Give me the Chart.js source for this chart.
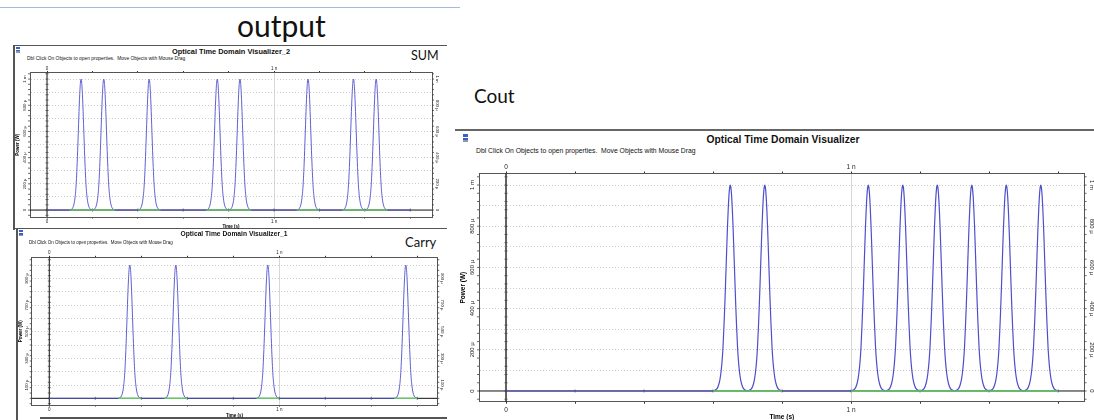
<!DOCTYPE html>
<html>
<head>
<meta charset="utf-8">
<title>Optical Time Domain Visualizer outputs</title>
<script src="https://cdn.jsdelivr.net/npm/chart.js@4.4.1/dist/chart.umd.min.js"></script>
<style>
  html, body { margin: 0; padding: 0; background: #fff; }
  #page { position: relative; width: 1094px; height: 420px; overflow: hidden; font-family: "Liberation Sans", Arial, sans-serif; }
  .box { position: absolute; }
  .rule { position: absolute; background: #555; }
  .txt { position: absolute; white-space: pre; line-height: 1; transform-origin: 0 0; color: #111; font-family: "Liberation Sans", Arial, sans-serif; }
  .big { position: absolute; font-family: Lato, "Open Sans", sans-serif; white-space: nowrap; line-height: 1; color: #111; }
  .icon { position: absolute; background: linear-gradient(#3b5fc4 0 35%, #fff 35% 50%, #3b5fc4 50% 75%, #8a9ab0 75%); }
</style>
</head>
<body>
<div id="page">
  <div class="rule" style="left:0;top:7px;width:460px;height:1px;background:#9dbbe3"></div>
  <div class="big" style="left:237px;top:10px;font-size:30px">output</div>
  <div class="big" style="left:411px;top:50px;font-size:12.5px">SUM</div>
  <div class="big" style="left:405px;top:236px;font-size:13px">Carry</div>
  <div class="big" style="left:474px;top:85.5px;font-size:19px">Cout</div>

  <div class="rule" style="left:13px;top:44.5px;width:434px;height:1.5px"></div>
  <div class="rule" style="left:13px;top:45px;width:1.5px;height:185px"></div>
  <div class="rule" style="left:14px;top:227.8px;width:433px;height:1.5px"></div>
  <div class="rule" style="left:16px;top:228px;width:1.5px;height:192px"></div>
  <div class="rule" style="left:40px;top:417.3px;width:407px;height:1.5px"></div>
  <div class="rule" style="left:455px;top:129.3px;width:639px;height:1.5px;background:#666"></div>

  <div class="icon" style="left:16px;top:47px;width:4px;height:6px"></div>
  <div class="icon" style="left:19px;top:230px;width:4px;height:6px"></div>
  <div class="icon" style="left:463px;top:134px;width:5px;height:8px"></div>

  <div class="box" style="left:10px;top:62px;width:434px;height:169px"><canvas id="sumChart"></canvas></div>
  <div class="box" style="left:12px;top:247px;width:437px;height:173px"><canvas id="carryChart"></canvas></div>
  <div class="box" style="left:457px;top:160px;width:643px;height:260px"><canvas id="coutChart"></canvas></div>
</div>
<script>
// time axis (ns)
const timeTicks = [0, 0.2, 0.4, 0.6, 0.8, 1, 1.2, 1.4, 1.6];
const timeTickLabels = ['0', '', '', '', '', '1 n', '', '', ''];

// power grid levels (µW)
const gridLevels = [0, 100, 200, 300, 400, 500, 600, 700, 800, 900, 1000];
const sumYLabels = [0, 200, 400, 600, 800, 1000];
const carryYLabels = [100, 300, 500, 700, 900];
const coutYLabels = [0, 200, 400, 600, 800, 1000];

// one pulse: offset from centre (ns) -> power (µW)
const pulseOffsets = [-0.050, -0.045, -0.039, -0.034, -0.030, -0.027, -0.024, -0.021, -0.018, -0.016, -0.014, -0.012,
                      -0.010, -0.008, -0.006, -0.004, -0.002, 0,
                      0.002, 0.004, 0.006, 0.008, 0.010, 0.012, 0.014, 0.016, 0.018, 0.021, 0.024, 0.027,
                      0.030, 0.034, 0.039, 0.045, 0.050];
const pulseLevels = [0, 3, 10, 28, 55, 90, 140, 215, 325, 410, 505, 604,
                     705, 800, 880, 945, 985, 1000,
                     985, 945, 880, 800, 705, 604, 505, 410, 325, 215, 140, 90,
                     55, 28, 10, 3, 0];

// pulse centres (ns) and the bit slots holding a 1 (green trace)
const sumPeaks = [0.15, 0.25, 0.45, 0.75, 0.85, 1.15, 1.35, 1.45];
const sumOnes = [[0.1, 0.3], [0.4, 0.5], [0.7, 0.9], [1.1, 1.2], [1.3, 1.5]];
const carryPeaks = [0.35, 0.55, 0.95, 1.55];
const carryOnes = [[0.3, 0.4], [0.5, 0.6], [0.9, 1.0], [1.5, 1.6]];
const coutPeaks = [0.65, 0.75, 1.05, 1.15, 1.25, 1.35, 1.45, 1.55];
const coutOnes = [[0.6, 0.8], [1.0, 1.6]];

const traceEnd = 1.6;
const blueColor = 'rgb(78, 78, 205)';
const greenColor = 'rgb(96, 200, 96)';

function pulseTrain(peaks) {
    const pts = [{ x: 0, y: 0 }];
    peaks.forEach(function(p) {
        pulseOffsets.forEach(function(d, i) {
            const x = +(p + d).toFixed(4);
            if (x > pts[pts.length - 1].x + 1e-9) pts.push({ x: x, y: pulseLevels[i] });
        });
    });
    if (traceEnd > pts[pts.length - 1].x + 1e-9) pts.push({ x: traceEnd, y: 0 });
    return pts;
}

function onesTrace(spans) {
    const pts = [];
    spans.forEach(function(s) {
        pts.push({ x: s[0], y: 0 }, { x: s[1], y: 0 }, { x: s[1], y: null });
    });
    return pts;
}

function tickText(v) {
    const i = timeTicks.indexOf(v);
    return i >= 0 ? timeTickLabels[i] : '';
}

function powerText(v) {
    if (v === 0) return '0';
    if (v === 1000) return '1 m';
    return v + ' µ';
}

function addText(text, x, y, size, opts) {
    opts = opts || {};
    const el = document.createElement('div');
    el.className = 'txt';
    el.textContent = text;
    el.style.left = x + 'px';
    el.style.top = y + 'px';
    el.style.fontSize = '20px';
    if (opts.bold) el.style.fontWeight = 'bold';
    el.style.transform = 'scale(' + (size / 20) + ') translate(' + (opts.center ? '-50%' : '0') + ', -50%)';
    document.getElementById('page').appendChild(el);
}

// frame decorations of the visualizer: zero axes, ruler ticks, rotated labels
const decor = {
    id: 'decor',
    beforeDatasetsDraw: function(chart, args, o) {
        const ctx = chart.ctx, a = chart.chartArea;
        const x = chart.scales.x, y = chart.scales.y;
        const x0 = x.getPixelForValue(0), y0 = y.getPixelForValue(0);
        ctx.save();
        ctx.strokeStyle = '#111';
        ctx.lineWidth = 1;
        ctx.beginPath(); ctx.moveTo(a.left, y0); ctx.lineTo(a.right, y0); ctx.stroke();
        ctx.lineWidth = o.zeroWidth;
        ctx.beginPath(); ctx.moveTo(x0, a.top); ctx.lineTo(x0, a.bottom); ctx.stroke();
        ctx.lineWidth = 0.8;
        ctx.strokeStyle = '#444';
        ctx.beginPath();
        for (let v = -o.minorStep; v <= y.max; v += o.minorStep) {
            if (v < y.min) continue;
            const py = y.getPixelForValue(v);
            ctx.moveTo(a.left - 2, py); ctx.lineTo(a.left, py);
            ctx.moveTo(x0 - 1.5, py); ctx.lineTo(x0 + 1.5, py);
            ctx.moveTo(a.right, py); ctx.lineTo(a.right + 2, py);
        }
        timeTicks.forEach(function(t) {
            const px = x.getPixelForValue(t);
            ctx.moveTo(px, y0 - 1.5); ctx.lineTo(px, y0 + 1.5);
        });
        ctx.stroke();
        ctx.restore();
    },
    afterDraw: function(chart, args, o) {
        const ctx = chart.ctx, a = chart.chartArea, y = chart.scales.y;
        ctx.save();
        ctx.fillStyle = '#222';
        ctx.textAlign = 'center';
        ctx.textBaseline = 'middle';
        ctx.font = o.labelFont + 'px "Liberation Sans"';
        o.labels.forEach(function(v) {
            const py = y.getPixelForValue(v);
            const text = powerText(v);
            ctx.save(); ctx.translate(a.left - o.labelGap, py); ctx.rotate(-Math.PI / 2); ctx.fillText(text, 0, 0); ctx.restore();
            ctx.save(); ctx.translate(a.right + o.labelGap, py); ctx.rotate(Math.PI / 2); ctx.fillText(text, 0, 0); ctx.restore();
        });
        ctx.fillStyle = '#000';
        ctx.font = 'bold ' + o.titleFont + 'px "Liberation Sans"';
        ctx.save(); ctx.translate(a.left - o.powerGap, (a.top + a.bottom) / 2); ctx.rotate(-Math.PI / 2); ctx.fillText('Power (W)', 0, 0); ctx.restore();
        ctx.fillText('Time (s)', (a.left + a.right) / 2, a.bottom + o.timeGap);
        ctx.restore();
    }
};

function timeAxis(cfg, position) {
    const top = position === 'top';
    return {
        type: 'linear', position: position, min: cfg.xMin, max: cfg.xMax,
        afterBuildTicks: function(s) { s.ticks = timeTicks.map(function(v) { return { value: v }; }); },
        afterFit: function(s) { s.height = top ? cfg.top : cfg.bottom; },
        ticks: {
            callback: tickText, autoSkip: false, maxRotation: 0, color: '#222',
            padding: top ? cfg.xPadTop : cfg.xPadBottom,
            font: { size: cfg.tickFont, family: 'Liberation Sans' }
        },
        grid: {
            drawOnChartArea: !top,
            color: function(c) { return c.tick && c.tick.value === 1 ? '#d6d6d6' : 'rgba(0,0,0,0)'; },
            tickColor: '#333', tickLength: cfg.tickLen, lineWidth: 1
        },
        border: { display: true, color: '#555', width: 1 }
    };
}

function powerAxis(cfg, position) {
    const left = position === 'left';
    return {
        type: 'linear', position: position, min: cfg.yMin, max: cfg.yMax,
        afterBuildTicks: function(s) { s.ticks = gridLevels.map(function(v) { return { value: v }; }); },
        afterFit: function(s) { s.width = left ? cfg.left : cfg.right; },
        ticks: { display: false },
        grid: {
            drawOnChartArea: left, drawTicks: false, lineWidth: 1,
            color: function(c) { return c.tick && c.tick.value === 0 ? 'rgba(0,0,0,0)' : '#cacaca'; }
        },
        border: { display: true, color: '#555', width: 1, dash: [1, 2] }
    };
}

function makePanel(id, cfg) {
    const ctx = document.getElementById(id).getContext('2d');
    return new Chart(ctx, {
        type: 'line',
        data: {
            datasets: [
                { label: 'ones', data: onesTrace(cfg.ones), borderColor: greenColor, borderWidth: cfg.greenWidth, spanGaps: false, tension: 0 },
                { label: 'power', data: pulseTrain(cfg.peaks), borderColor: blueColor, borderWidth: cfg.lineWidth, cubicInterpolationMode: 'monotone' }
            ]
        },
        options: {
            responsive: true,
            maintainAspectRatio: false,
            animation: false,
            layout: { padding: 0 },
            elements: { point: { radius: 0 } },
            plugins: {
                legend: { display: false },
                tooltip: { enabled: false },
                decor: cfg.decor
            },
            scales: {
                x: timeAxis(cfg, 'bottom'),
                x2: timeAxis(cfg, 'top'),
                y: powerAxis(cfg, 'left'),
                y2: powerAxis(cfg, 'right')
            }
        },
        plugins: [decor]
    });
}

makePanel('sumChart', {
    peaks: sumPeaks, ones: sumOnes,
    xMin: -0.075, xMax: 1.696, yMin: -53, yMax: 1050,
    left: 20, right: 12, top: 10.5, bottom: 14,
    tickFont: 4.5, tickLen: 1.5, xPadTop: 0, xPadBottom: 0.5,
    lineWidth: 0.9, greenWidth: 1.2,
    decor: { labels: sumYLabels, labelFont: 4.3, labelGap: 5, titleFont: 4.5, powerGap: 12, timeGap: 9.7, minorStep: 40, zeroWidth: 1 }
});

makePanel('carryChart', {
    peaks: carryPeaks, ones: carryOnes,
    xMin: -0.0765, xMax: 1.687, yMin: -50, yMax: 1058,
    left: 19.7, right: 11.7, top: 10.3, bottom: 15,
    tickFont: 4.5, tickLen: 1.5, xPadTop: 0, xPadBottom: 0.5,
    lineWidth: 0.9, greenWidth: 1.2,
    decor: { labels: carryYLabels, labelFont: 4.3, labelGap: 5, titleFont: 4.5, powerGap: 11, timeGap: 10.7, minorStep: 40, zeroWidth: 1 }
});

makePanel('coutChart', {
    peaks: coutPeaks, ones: coutOnes,
    xMin: -0.0783, xMax: 1.677, yMin: -52, yMax: 1056,
    left: 22, right: 15.4, top: 13.5, bottom: 18.3,
    tickFont: 6.5, tickLen: 2, xPadTop: 0, xPadBottom: 2.5,
    lineWidth: 1.2, greenWidth: 1.6,
    decor: { labels: coutYLabels, labelFont: 6, labelGap: 7, titleFont: 6.5, powerGap: 16, timeGap: 15.5, minorStep: 40, zeroWidth: 1.3 }
});

addText('Optical Time Domain Visualizer_2', 231, 51, 7.4, { bold: true, center: true });
addText('Dbl Click On Objects to open properties.  Move Objects with Mouse Drag', 27, 58.3, 4.9);
addText('Optical Time Domain Visualizer_1', 234, 234.3, 6.7, { bold: true, center: true });
addText('Dbl Click On Objects to open properties.  Move Objects with Mouse Drag', 29, 242, 4.45);
addText('Optical Time Domain Visualizer', 783, 139, 10.3, { bold: true, center: true });
addText('Dbl Click On Objects to open properties.  Move Objects with Mouse Drag', 476, 151, 6.8);
</script>
</body>
</html>
